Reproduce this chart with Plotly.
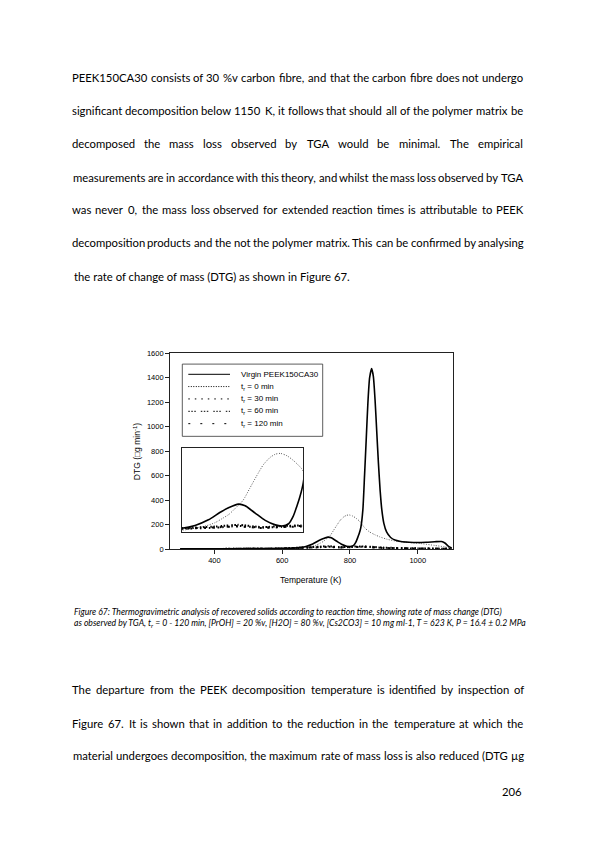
import plotly.graph_objects as go

W, H = 595, 842

# ---- chart data ----
temp_virgin = [300, 400, 500, 600, 650, 670, 690, 707, 720, 735, 745, 760, 775, 790, 800,
               810, 817, 822, 827, 832, 838, 843, 848, 853, 858, 864, 869, 874, 879, 884,
               889, 894, 900, 908, 920, 935, 950, 975, 1000, 1025, 1050, 1070, 1080, 1090, 1100]
dtg_virgin = [2, 3, 4, 6, 12, 22, 42, 68, 85, 98, 92, 66, 40, 24, 20,
              28, 55, 88, 125, 175, 320, 600, 900, 1200, 1400, 1474, 1410, 1220, 960, 700,
              480, 320, 210, 140, 95, 72, 62, 56, 54, 56, 60, 62, 50, 25, 10]

temp_t0 = [300, 400, 450, 500, 550, 600, 650, 670, 687, 700, 711, 721, 731, 742, 752, 762,
           772, 782, 790, 798, 808, 818, 829, 844, 858, 873, 888, 910, 937, 970, 1007, 1050,
           1080, 1100]
dtg_t0 = [0, 3, 8, 8, 5, 4, 5, 12, 21, 32, 47, 62, 85, 112, 155, 198,
          238, 264, 276, 279, 270, 252, 226, 172, 140, 118, 100, 80, 65, 55, 46, 30,
          18, 8]

temp_tr = [300, 500, 600, 650, 700, 735, 770, 800, 830, 860, 900, 1000, 1100]
dtg_t30 = [0, 2, 4, 10, 14, 20, 14, 17, 20, 18, 10, 5, 2]
dtg_t60 = [0, 3, 5, 12, 18, 24, 16, 20, 22, 20, 12, 6, 3]
dtg_t120 = [0, 2, 4, 11, 15, 18, 13, 16, 18, 15, 9, 5, 2]

legend_names = ["Virgin PEEK150CA30", "t<sub>r</sub> = 0 min", "t<sub>r</sub> = 30 min",
                "t<sub>r</sub> = 60 min", "t<sub>r</sub> = 120 min"]
x_ticks = [400, 600, 800, 1000]

# ---- page text ----
para1 = [
    "PEEK150CA30 consists of 30 %v carbon fibre, and that the carbon fibre does not undergo",
    "significant decomposition below 1150 K, it follows that should all of the polymer matrix be",
    "decomposed the mass loss observed by TGA would be minimal. The empirical",
    "measurements are in accordance with this theory, and whilst the mass loss observed by TGA",
    "was never 0, the mass loss observed for extended reaction times is attributable to PEEK",
    "decomposition products and the not the polymer matrix. This can be confirmed by analysing",
    "the rate of change of mass (DTG) as shown in Figure 67.",
]
para1_y = [74, 108, 141, 175, 208, 241, 275]
para2 = [
    "The departure from the PEEK decomposition temperature is identified by inspection of",
    "Figure 67. It is shown that in addition to the reduction in the temperature at which the",
    "material undergoes decomposition, the maximum rate of mass loss is also reduced (DTG µg",
]
para2_y = [693, 727, 760]
caption = [
    "Figure 67: Thermogravimetric analysis of recovered solids according to reaction time, "
    "showing rate of mass change (DTG)",
    "as observed by TGA, t<sub>r</sub> = 0 - 120 min, [PrOH] = 20 %v, [H2O] = 80 %v, "
    "[Cs2CO3] = 10 mg ml-1, T = 623 K, P = 16.4 ± 0.2 MPa",
]
caption_y = [614, 626]

# rough advance widths (1/1000 em) used to space the justified words
CW = {' ': 226, ',': 250, '.': 252, '%': 760, '(': 303, ')': 303, '-': 306, ':': 268, 'µ': 527}
CW.update({d: 565 for d in "0123456789"})
CW.update(dict(zip("ABCDEFGHIJKLMNOPQRSTUVWXYZ",
                   [650, 600, 600, 680, 540, 510, 690, 690, 270, 350, 590, 460, 900, 700, 720,
                    580, 730, 600, 500, 560, 690, 640, 940, 590, 560, 520])))
CW.update(dict(zip("abcdefghijklmnopqrstuvwxyz",
                   [479, 525, 423, 525, 498, 305, 471, 525, 229, 239, 455, 229, 799, 525, 527,
                    525, 525, 349, 391, 335, 525, 452, 715, 433, 453, 395])))

BODY = 11.3
FONT = "Lato"
CHART_FONT = "Liberation Sans"


def px(x):
    return x / W


def py(y):
    return 1 - y / H


def word_w(s, size=12):
    return sum(CW.get(c, 500) for c in s) / 1000 * size


annotations = []


def add_text(text, x, y, anchor="left", size=BODY, family=FONT, **kw):
    annotations.append(dict(x=px(x), y=py(y), xref="paper", yref="paper", text=text,
                            showarrow=False, xanchor=anchor, yanchor="middle",
                            font=dict(family=family, size=size, color="black"), **kw))


def add_paragraph(lines, ys, last_left=True, x0=72.3, x1=523.5):
    for i, (line, y) in enumerate(zip(lines, ys)):
        if last_left and i == len(lines) - 1:
            add_text(line, x0, y)
            continue
        words = line.split(" ")
        widths = [word_w(w) for w in words]
        gap = (x1 - x0 - sum(widths)) / (len(words) - 1)
        x = x0
        for w, wd in zip(words, widths):
            add_text(w, x + wd / 2, y, anchor="center")
            x += wd + gap


add_paragraph(para1, para1_y)
add_paragraph(para2, para2_y, last_left=False)
for line, y in zip(caption, caption_y):
    add_text("<i>" + line + "</i>", 72, y, size=8.65)
add_text("206", 523.5, 796, anchor="right")

# axis titles
add_text("Temperature (K)", 311, 582, anchor="center", size=8.5, family=CHART_FONT)
add_text("DTG (□g min<sup>-1</sup>)", 137, 453, anchor="center", size=8.5,
         family=CHART_FONT, textangle=-90)

# ---- figure ----
fig = go.Figure()

series = [
    (temp_t0, dtg_t0, "1px,1.5px", 0.8, "#333333"),
    (temp_tr, dtg_t30, "1.5px,3px", 2.0, "black"),
    (temp_tr, dtg_t60, "1.5px,1.5px,1.5px,1.5px,1.5px,3px", 2.0, "black"),
    (temp_tr, dtg_t120, "2px,6px", 2.0, "black"),
    (temp_virgin, dtg_virgin, "solid", 1.6, "black"),
]
for xa, ya in [("x", "y"), ("x2", "y2")]:
    for t, v, dash, lw, col in series:
        fig.add_trace(go.Scatter(x=t, y=v, mode="lines", xaxis=xa, yaxis=ya,
                                 line=dict(color=col, width=lw, dash=dash, shape="spline",
                                           smoothing=0.6),
                                 showlegend=False, hoverinfo="skip"))

# legend drawn by hand to match the boxed SigmaPlot legend
shapes = [dict(type="rect", xref="paper", yref="paper", x0=px(182.3), x1=px(322.7),
               y0=py(364), y1=py(437), line=dict(color="#333333", width=0.8),
               fillcolor="white", layer="above")]
legend_rows = [374.3, 386.7, 399.2, 411.7, 424.2]
legend_dash = ["solid", "1px,1.5px", "1.5px,5px", "1.5px,1.5px,1.5px,1.5px,1.5px,5px", "2px,10px"]
for name, y, dash in zip(legend_names, legend_rows, legend_dash):
    shapes.append(dict(type="line", xref="paper", yref="paper", x0=px(188.3), x1=px(230),
                       y0=py(y), y1=py(y), layer="above",
                       line=dict(color="black", width=1.0, dash=dash)))
    add_text(name, 239, y, size=8, family=CHART_FONT)

axis_common = dict(showgrid=False, zeroline=False, showline=True, linecolor="#222222",
                   linewidth=0.8, mirror=True)

fig.update_layout(
    width=W, height=H,
    margin=dict(l=0, r=0, t=0, b=0),
    paper_bgcolor="white", plot_bgcolor="white",
    showlegend=False,
    xaxis=dict(domain=[px(170), px(453)], range=[269, 1104], tickvals=x_ticks,
               ticks="outside", ticklen=4, tickwidth=0.8, tickcolor="#222222",
               tickfont=dict(family=CHART_FONT, size=7.5, color="black"), anchor="y",
               **axis_common),
    yaxis=dict(domain=[py(551), py(353)], range=[0, 1600], dtick=200,
               ticks="outside", ticklen=4, tickwidth=0.8, tickcolor="#222222",
               tickfont=dict(family=CHART_FONT, size=7.5, color="black"), anchor="x",
               **axis_common),
    xaxis2=dict(domain=[px(181.7), px(303.3)], range=[650, 832], showticklabels=False,
                ticks="", anchor="y2", **axis_common),
    yaxis2=dict(domain=[py(533.3), py(448.3)], range=[0, 300], showticklabels=False,
                ticks="", anchor="x2", **axis_common),
    shapes=shapes,
    annotations=annotations,
)

# no body margin and no modebar, so the page matches the printed sheet
fig.write_html("out.html", config={"displayModeBar": False},
               post_script="document.body.style.margin='0';")
